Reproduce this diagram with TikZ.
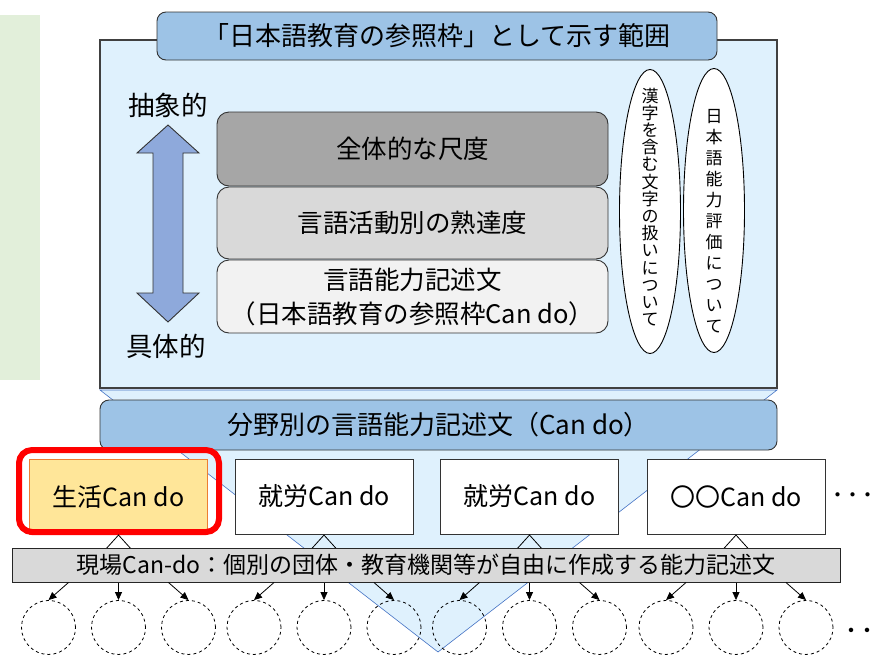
\documentclass[tikz,border=0pt]{standalone}
\usepackage{fontspec}
\setmainfont{Noto Sans CJK JP}
\usetikzlibrary{shapes.geometric,arrows.meta}
\definecolor{paleblue}{HTML}{DFF1FD}
\definecolor{barblue}{HTML}{9DC3E6}
\definecolor{arrowblue}{HTML}{8EA9DB}
\definecolor{edgeblue}{HTML}{4472C4}
\definecolor{palegreen}{HTML}{E2EFDA}
\definecolor{lifeyellow}{HTML}{FFE699}
\definecolor{lifeorange}{HTML}{ED7D31}

\begin{document}
\begin{tikzpicture}
	[
		x=1pt, y=-1pt,
		% Make a style for the blue title bars.
		bluebar/.style={draw=black!80, fill=barblue, rounded corners=9pt, line width=0.9pt, font=\fontsize{26}{28}\selectfont},
		% And one for the three stacked levels.
		rung/.style={draw=black!80, rounded corners=12pt, line width=0.9pt, minimum width=391pt, align=center, font=\fontsize{25.5}{34}\selectfont},
		% A tall oval, its text stacked in a separate node.
		oval/.style={ellipse, draw=black, fill=white, line width=0.9pt, minimum width=61pt, minimum height=284pt, inner sep=0pt},
		vtext/.style={align=center, inner sep=0pt, font=\fontsize{17}{#1}\selectfont},
		% Boxes for each field.
		fieldbox/.style={draw=black!80, fill=white, line width=0.9pt, minimum width=178pt, minimum height=75pt, font=\fontsize{25}{28}\selectfont},
		% Dashed circles at the bottom.
		spotcircle/.style={circle, draw=black, dashed, line width=0.8pt, minimum size=54pt, inner sep=0pt},
		tospot/.style={-{Triangle[length=8pt,width=7pt]}, line width=0.8pt},
		tofield/.style={-{Triangle[open,length=20pt,width=36pt]}, line width=0.8pt},
		bigtext/.style={font=\fontsize{26.5}{28}\selectfont}
	]
		\useasboundingbox (0,0) rectangle (878,654);

		% Green strip and the funnel behind everything.
		\fill[palegreen] (0,15) rectangle (40,380);
		\draw[fill=paleblue, draw=edgeblue, line width=0.6pt] (100,390) -- (777,390) -- (438,652) -- cycle;

		% Outer frame and its tab.
		\draw[fill=paleblue, draw=black!75, line width=1.2pt] (100,40) rectangle (777,388);
		\node[bluebar, minimum width=560pt, minimum height=48pt] (title) at (437,36) {「日本語教育の参照枠」として示す範囲};

		% Abstract <-> concrete.
		\node[bigtext] (abstract) at (168,105) {抽象的};
		\node[bigtext] (concrete) at (166,346) {具体的};
		\draw[fill=arrowblue, draw=black!80, line width=0.9pt]
			(168,125) -- (199,153) -- (183,153) -- (183,293) -- (199,293) -- (168,322)
			-- (137,293) -- (153,293) -- (153,153) -- (137,153) -- cycle;

		\node[rung, fill=black!35, minimum height=74pt] (global) at (412.5,149) {全体的な尺度};
		\node[rung, fill=black!15, minimum height=72pt] (activity) at (412.5,223) {言語活動別の熟達度};
		\node[rung, fill=black!5, minimum height=73pt] (descriptor) at (412.5,296.5) {言語能力記述文\\（日本語教育の参照枠Can do）};

		\node[oval] (kanji) at (650,211.5) {};
		\node[vtext=17.2pt] (kanjitext) at ([yshift=4.5pt]kanji.center) {漢\\字\\を\\含\\む\\文\\字\\の\\扱\\い\\に\\つ\\い\\て};
		\node[oval] (rating) at (714,210.5) {};
		\node[vtext=21pt] (ratingtext) at ([yshift=-11pt]rating.center) {日\\本\\語\\能\\力\\評\\価\\に\\つ\\い\\て};

		% Field descriptors.
		\node[bluebar, minimum width=677pt, minimum height=50pt] (fields) at (438.5,425) {分野別の言語能力記述文（Can do）};

		\node[fieldbox, fill=lifeyellow, draw=lifeorange] (life) at (118.5,496.5) {生活Can do};
		\node[fieldbox] (work) at (324,496.5) {就労Can do};
		\node[fieldbox] (work2) at (529.5,496.5) {就労Can do};
		\node[fieldbox] (other) at (736,496.5) {〇〇Can do};
		\node[anchor=west, inner sep=0pt, font=\fontsize{15}{18}\bfseries] (moreFields) at (830,497) {・・・};
		\draw[red, line width=6pt, rounded corners=13pt] (19,450) rectangle (219,532);

		\foreach \f in {life,work,work2,other}
			\draw[tofield] ([yshift=-26pt]\f.south) -- (\f.south);

		% Site level Can-do.
		\node[draw=black!85, fill=black!15, line width=1pt, minimum width=828pt, minimum height=34pt, font=\fontsize{23}{24}\selectfont] (site) at (426,565) {現場Can-do：個別の団体・教育機関等が自由に作成する能力記述文};

		\foreach \f/\a/\b/\c in {life/1/2/3, work/4/5/6, work2/7/8/9, other/10/11/12}
		{
			\path (\f.south) ++(-70,93) node[spotcircle] (spot\a) {};
			\path (\f.south) ++(0,93) node[spotcircle] (spot\b) {};
			\path (\f.south) ++(70,93) node[spotcircle] (spot\c) {};
			\draw[tospot] ([xshift=-50pt]site.south -| \f.south) -- (spot\a.north);
			\draw[tospot] (site.south -| \f.south) -- (spot\b.north);
			\draw[tospot] ([xshift=50pt]site.south -| \f.south) -- (spot\c.north);
		}
		\node[anchor=west, inner sep=0pt, font=\fontsize{16}{18}\bfseries] (moreSpots) at (843,632) {・・・};
	\end{tikzpicture}
\end{document}
